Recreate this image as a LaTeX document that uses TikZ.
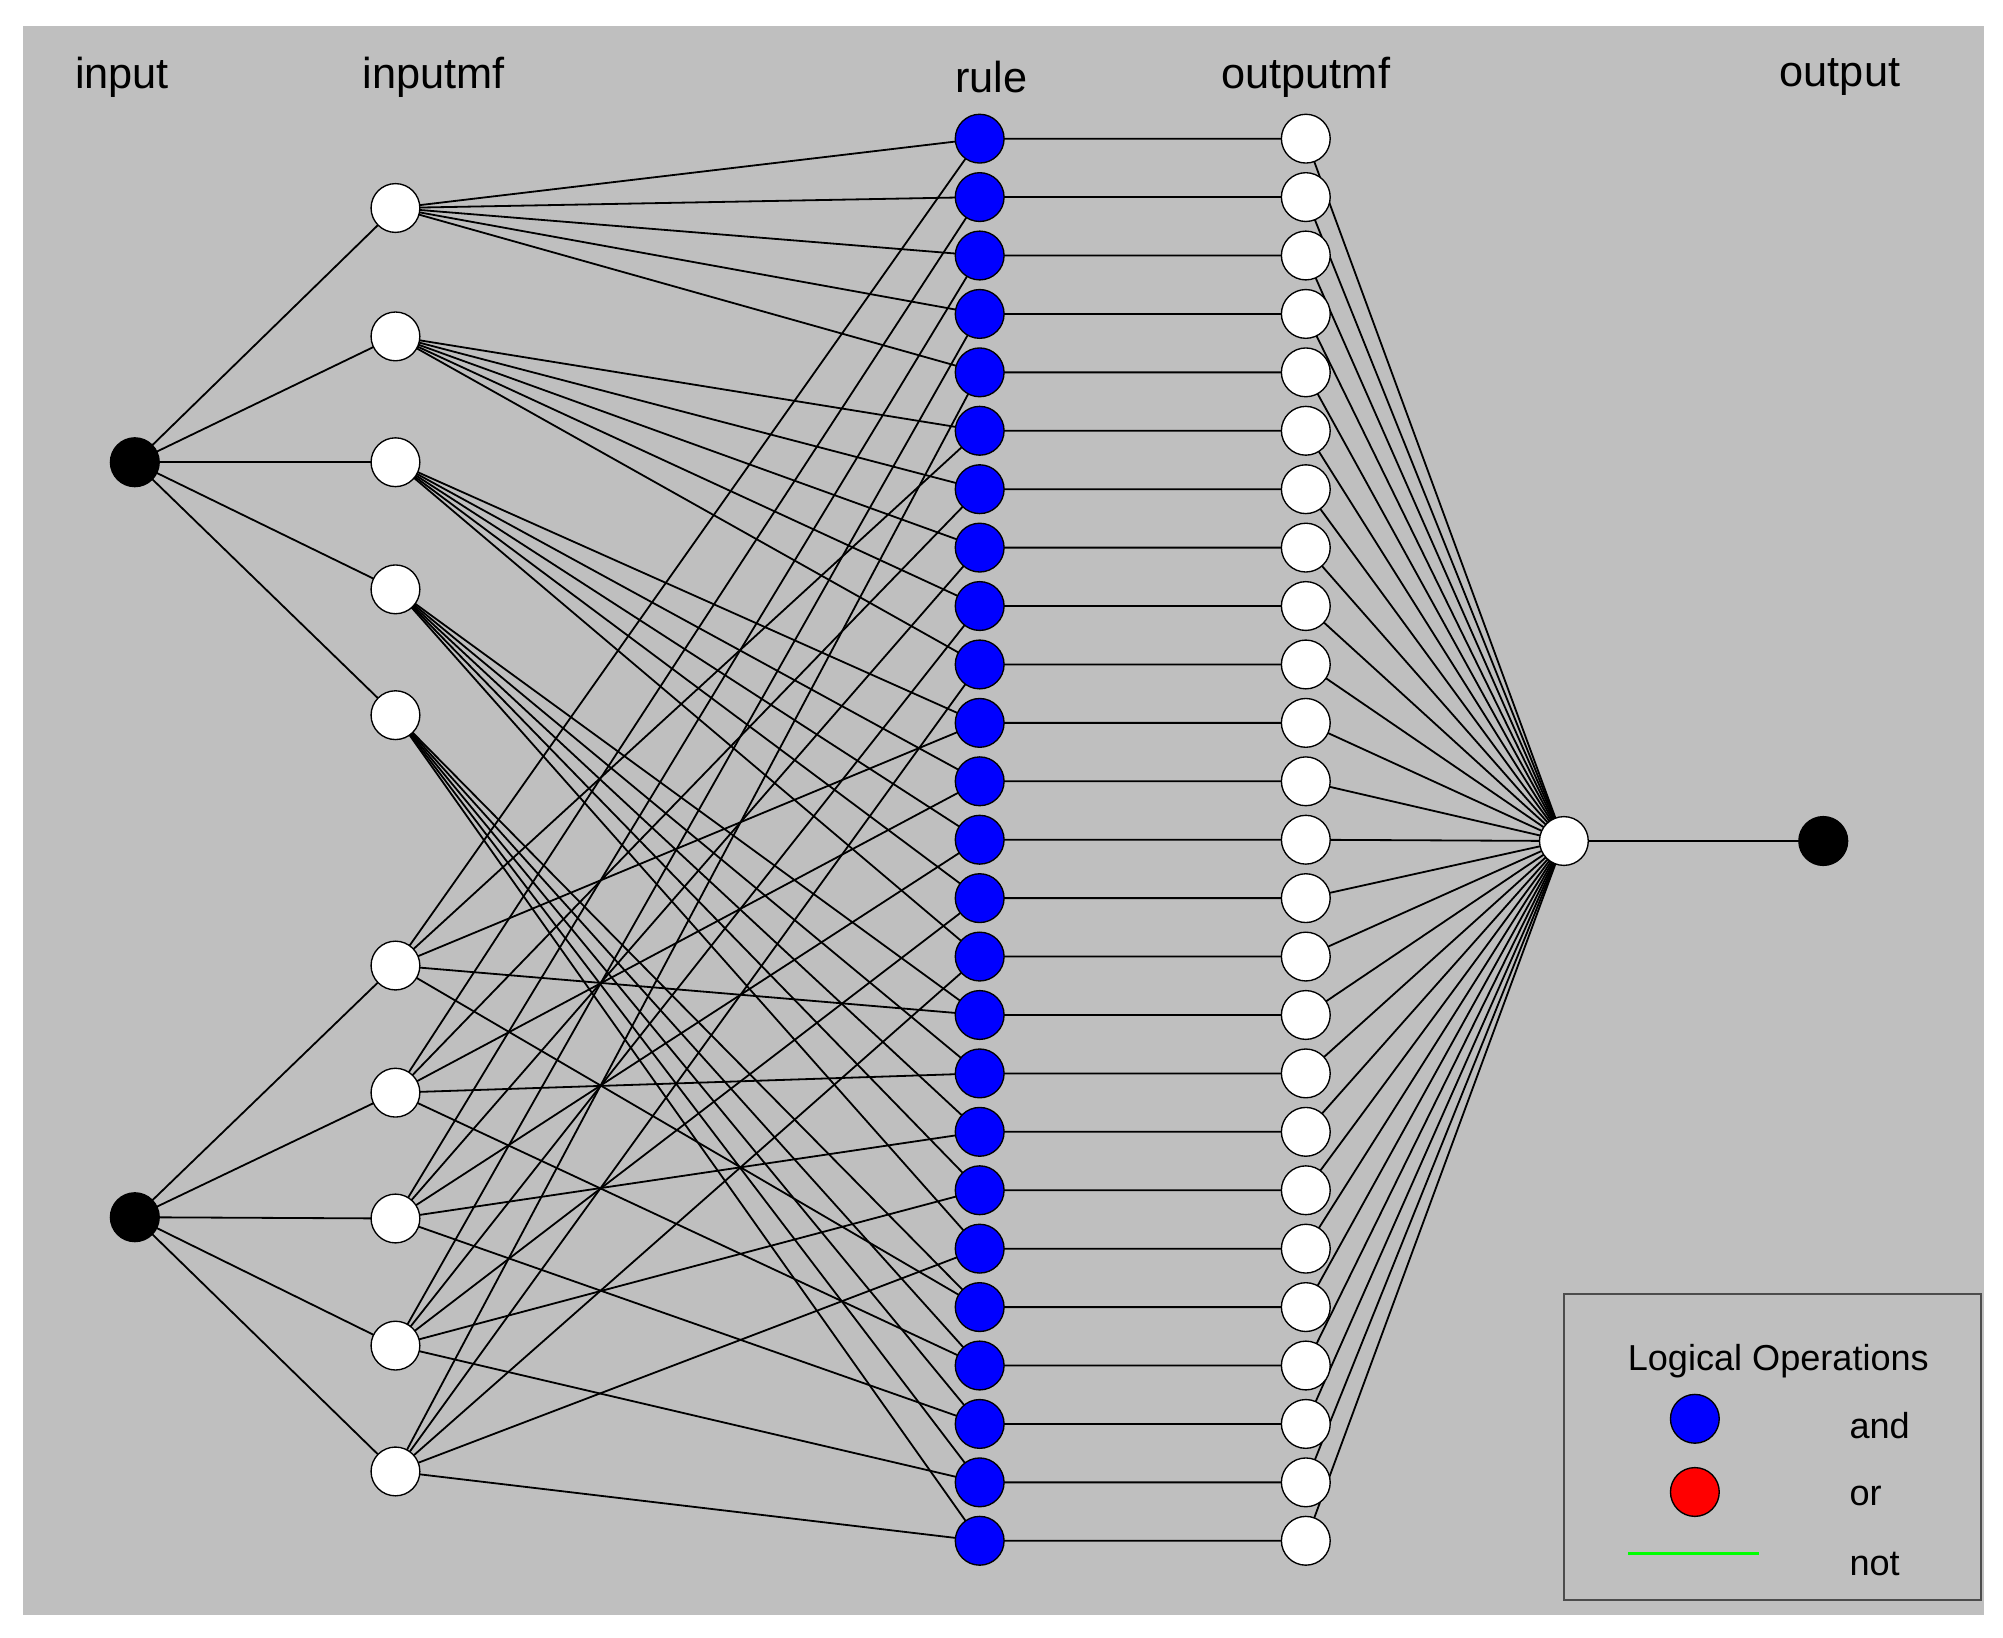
\documentclass[tikz,border=0pt]{standalone}
\usepackage{fontspec}
\setmainfont{Liberation Sans}
\begin{document}
\begin{tikzpicture}[x=0.05cm,y=-0.05cm,
  wn/.style={circle,draw=black,line width=1.5pt,fill=white,minimum size=1.9cm,inner sep=0pt},
  bn/.style={circle,draw=black,line width=1.5pt,fill=black,minimum size=1.9cm,inner sep=0pt},
  rn/.style={circle,draw=black,line width=1.5pt,fill=blue,minimum size=1.9cm,inner sep=0pt},
  ln/.style={line width=2pt},
  lab/.style={font=\fontsize{48}{56}\selectfont}]
\useasboundingbox (0,0) rectangle (1560,1275);
\fill[white] (0,0) rectangle (1560,1275);
\fill[black!25] (18,20) rectangle (1545,1258);
% labels
\node[lab] (l1) at (95,60) {input};
\node[lab] (l2) at (338,60) {inputmf};
\node[lab] (l3) at (772,60) {rule};
\node[lab] (l4) at (1017,60) {outputmf};
\node[lab] (l5) at (1433,60) {output};
% coordinates of nodes
\foreach \i/\y in {1/162,2/262,3/360,4/459,5/557}{\coordinate (pa\i) at (308,\y);}
\foreach \i/\y in {1/752,2/851,3/949,4/1048,5/1146}{\coordinate (pb\i) at (308,\y);}
\foreach \k in {1,...,25}{\coordinate (pr\k) at (763,{108+(\k-1)*45.5});}
% edges
\foreach \i in {1,...,5}{
  \draw[ln] (105,360) -- (pa\i);
  \draw[ln] (105,948) -- (pb\i);}
\foreach \i in {1,...,5}{
  \foreach \j in {1,...,5}{
    \pgfmathtruncatemacro{\k}{5*(\i-1)+\j}
    \draw[ln] (pa\i) -- (pr\k);
    \draw[ln] (pb\j) -- (pr\k);}}
\foreach \k in {1,...,25}{
  \draw[ln] (pr\k) -- (1017,{108+(\k-1)*45.5}) -- (1218,655);}
\draw[ln] (1218,655) -- (1420,655);
% nodes
\node[bn] (in1) at (105,360) {};
\node[bn] (in2) at (105,948) {};
\foreach \i in {1,...,5}{\node[wn] (ma\i) at (pa\i) {}; \node[wn] (mb\i) at (pb\i) {};}
\foreach \k in {1,...,25}{
  \node[rn] (r\k) at (pr\k) {};
  \node[wn] (o\k) at (1017,{108+(\k-1)*45.5}) {};}
\node[wn] (sum) at (1218,655) {};
\node[bn] (out) at (1420,655) {};
% legend
\draw[line width=2.5pt,black!70] (1218,1008) rectangle (1543,1246);
\node[lab,font=\fontsize{40}{48}\selectfont] (lt) at (1385,1060) {Logical Operations};
\node[rn] (lb) at (1320,1105) {};
\node[circle,draw=black,line width=1.5pt,fill=red,minimum size=1.9cm,inner sep=0pt] (lr) at (1320,1162) {};
\draw[green,line width=2.5pt] (1268,1210) -- (1370,1210);
\node[lab,font=\fontsize{40}{48}\selectfont,anchor=west] (la) at (1438,1110) {and};
\node[lab,font=\fontsize{40}{48}\selectfont,anchor=west] (lo) at (1438,1165) {or};
\node[lab,font=\fontsize{40}{48}\selectfont,anchor=west] (lnn) at (1438,1218) {not};
\end{tikzpicture}
\end{document}
